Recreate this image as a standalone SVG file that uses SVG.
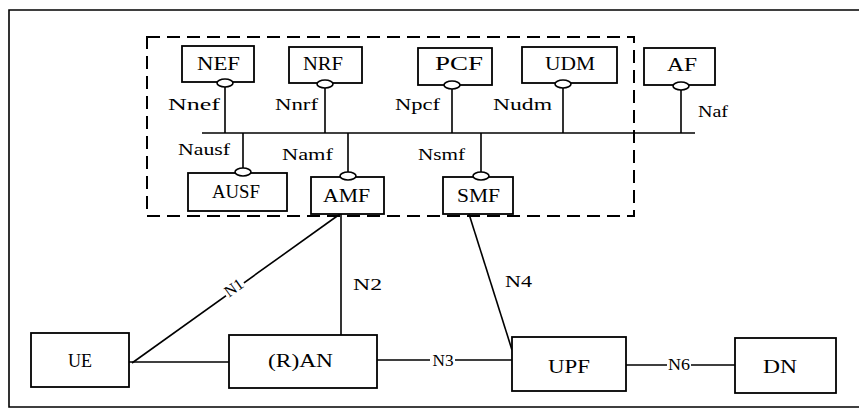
<svg xmlns="http://www.w3.org/2000/svg" width="859" height="413" viewBox="0 0 859 413">
<style>
.box{fill:#fff;stroke:#000;stroke-width:1.8}
.ln{fill:none;stroke:#000;stroke-width:1.6}
.ov{fill:#fff;stroke:#000;stroke-width:1.6}
.t{font-family:"Liberation Serif","Times New Roman",serif;font-size:18px;fill:#000}
.s{font-family:"Liberation Serif","Times New Roman",serif;font-size:16px;fill:#000}
</style>
<rect width="859" height="413" fill="#fff"/>
<path d="M859 10 H9 V407 H859" class="ln" stroke-width="1.5"/>
<rect x="147" y="37" width="487" height="179" fill="none" stroke="#000" stroke-width="2" stroke-dasharray="13 7"/>
<g id="connectors">
<path class="ln" d="M202 133 H695"/>
<path class="ln" d="M225 85 V133 M325 85 V133 M452 87 V133 M563 86 V133 M681 88 V133"/>
<path class="ln" d="M243 133 V170 M348 133 V174 M481 133 V174"/>
<path class="ln" d="M129 362 H229"/>
<path class="ln" d="M132 363 L340 214"/>
<path class="ln" d="M341 214 V335"/>
<path class="ln" d="M377 360 H430 M455 360 H512"/>
<path class="ln" d="M469 214 L512 350"/>
<path class="ln" d="M626 365 H667 M691 365 H735"/>
<text class="s" x="443" y="366" text-anchor="middle" textLength="21" lengthAdjust="spacingAndGlyphs">N3</text>
<text class="s" x="679" y="370" text-anchor="middle" textLength="22" lengthAdjust="spacingAndGlyphs">N6</text>
<g transform="translate(234 288) rotate(-35.6)"><rect x="-11" y="-8" width="22" height="14" fill="#fff"/><text class="s" x="0" y="5" text-anchor="middle">N1</text></g>
<text class="s" x="353" y="290" textLength="29" lengthAdjust="spacingAndGlyphs">N2</text>
<text class="s" x="505" y="287" textLength="27" lengthAdjust="spacingAndGlyphs">N4</text>
<text class="s" x="168" y="110" textLength="52" lengthAdjust="spacingAndGlyphs">Nnef</text>
<text class="s" x="275" y="110" textLength="43" lengthAdjust="spacingAndGlyphs">Nnrf</text>
<text class="s" x="395" y="110" textLength="45" lengthAdjust="spacingAndGlyphs">Npcf</text>
<text class="s" x="493" y="110" textLength="59" lengthAdjust="spacingAndGlyphs">Nudm</text>
<text class="s" x="698" y="117" textLength="30" lengthAdjust="spacingAndGlyphs">Naf</text>
<text class="s" x="178" y="155" textLength="52" lengthAdjust="spacingAndGlyphs">Nausf</text>
<text class="s" x="282" y="160" textLength="51" lengthAdjust="spacingAndGlyphs">Namf</text>
<text class="s" x="418" y="160" textLength="47" lengthAdjust="spacingAndGlyphs">Nsmf</text>
</g>
<g id="NEF"><rect class="box" x="182" y="46" width="72" height="36"/><ellipse class="ov" cx="225" cy="83" rx="8" ry="4"/><text class="t" x="197" y="70" textLength="43" lengthAdjust="spacingAndGlyphs">NEF</text></g>
<g id="NRF"><rect class="box" x="289" y="47" width="73" height="36"/><ellipse class="ov" cx="325" cy="84" rx="8" ry="4"/><text class="t" x="303" y="70" textLength="40" lengthAdjust="spacingAndGlyphs">NRF</text></g>
<g id="PCF"><rect class="box" x="418" y="48" width="74" height="37"/><ellipse class="ov" cx="452" cy="85" rx="8" ry="4"/><text class="t" x="435" y="70" textLength="48" lengthAdjust="spacingAndGlyphs">PCF</text></g>
<g id="UDM"><rect class="box" x="522" y="47" width="95" height="36"/><ellipse class="ov" cx="563" cy="84" rx="8" ry="4"/><text class="t" x="545" y="70" textLength="50" lengthAdjust="spacingAndGlyphs">UDM</text></g>
<g id="AF"><rect class="box" x="644" y="48" width="71" height="37"/><ellipse class="ov" cx="681" cy="86" rx="8" ry="4"/><text class="t" x="667" y="71" textLength="30" lengthAdjust="spacingAndGlyphs">AF</text></g>
<g id="AUSF"><rect class="box" x="188" y="173" width="99" height="38"/><ellipse class="ov" cx="243" cy="172" rx="8" ry="4"/><text class="t" x="212" y="198" textLength="48" lengthAdjust="spacingAndGlyphs">AUSF</text></g>
<g id="AMF"><rect class="box" x="311" y="177" width="73" height="37"/><ellipse class="ov" cx="348" cy="176" rx="8" ry="4"/><text class="t" x="323" y="202" textLength="47" lengthAdjust="spacingAndGlyphs">AMF</text></g>
<g id="SMF"><rect class="box" x="443" y="177" width="70" height="37"/><ellipse class="ov" cx="481" cy="176" rx="8" ry="4"/><text class="t" x="457" y="202" textLength="43" lengthAdjust="spacingAndGlyphs">SMF</text></g>
<g id="UE"><rect class="box" x="31" y="333" width="98" height="54"/><text class="t" x="80" y="367" text-anchor="middle">UE</text></g>
<g id="RAN"><rect class="box" x="229" y="335" width="148" height="53"/><text class="t" x="268" y="367" textLength="65" lengthAdjust="spacingAndGlyphs">(R)AN</text></g>
<g id="UPF"><rect class="box" x="512" y="337" width="114" height="54"/><text class="t" x="548" y="373" textLength="42" lengthAdjust="spacingAndGlyphs">UPF</text></g>
<g id="DN"><rect class="box" x="735" y="338" width="101" height="55"/><text class="t" x="763" y="373" textLength="34" lengthAdjust="spacingAndGlyphs">DN</text></g>
</svg>
